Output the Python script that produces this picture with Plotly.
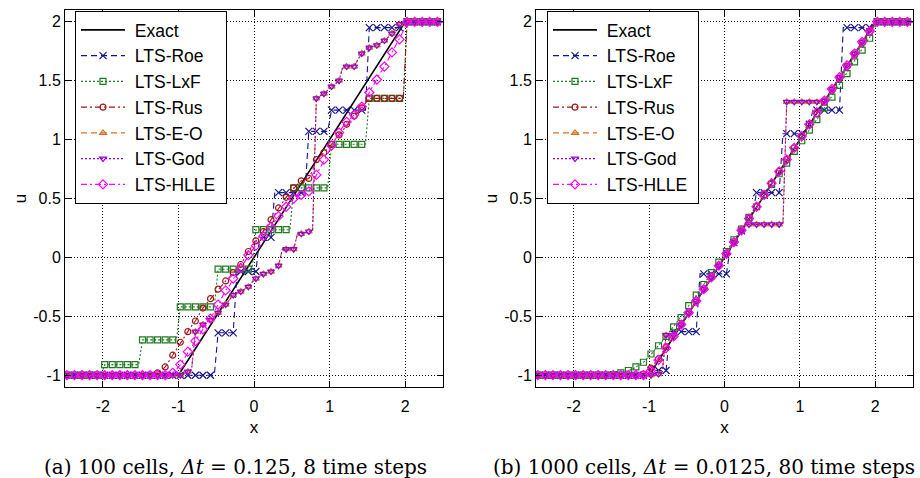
import plotly.graph_objects as go

W, H = 920, 478

# ---------------- data ----------------
# cell centres (every 0.05 on [-2.5, 2.5]); markers drawn on every other cell
X_CELLS = [round(-2.475 + 0.05 * i, 3) for i in range(100)]

EXACT_X = [-2.5, -1.0, 2.0, 2.5]
EXACT_U = [-1.0, -1.0, 2.0, 2.0]

# (a) 100 cells, dt = 0.125
ROE_A = ([-1.0] * 40 + [-0.64] * 5 + [-0.12] * 6 + [0.17] * 4 + [0.55] * 9
         + [1.07] * 6 + [1.25] * 10 + [1.95] * 9 + [2.0] * 11)
LXF_A = ([-1.0] * 10 + [-0.91] * 10 + [-0.70] * 10 + [-0.42] * 10 + [-0.10] * 10
         + [0.235] * 10 + [0.59] * 10 + [0.96] * 10 + [1.35] * 10 + [2.0] * 10)
RUS_A = ([-1.0] * 24
         + [-0.98, -0.96, -0.93, -0.88, -0.83, -0.77, -0.72, -0.67, -0.63, -0.58,
            -0.54, -0.48, -0.43, -0.39, -0.35, -0.31, -0.27, -0.24, -0.20, -0.17,
            -0.13, -0.10, -0.06, -0.01, 0.05, 0.10, 0.14, 0.18, 0.22, 0.27,
            0.32, 0.37, 0.42, 0.47, 0.51, 0.55, 0.59, 0.62, 0.65, 0.66,
            0.67, 0.74, 0.83, 0.86, 0.89, 0.93, 0.96, 1.00, 1.04, 1.09,
            1.13, 1.16, 1.20, 1.23, 1.27, 1.30]
         + [1.35] * 10 + [2.0] * 10)
GOD_A = ([-1.0] * 31
         + [-0.99, -0.97, -0.95, -0.63, -0.60, -0.57, -0.55, -0.53, -0.50, -0.47,
            -0.44, -0.40, -0.36, -0.32, -0.30, -0.29, -0.27, -0.25, -0.21, -0.18,
            -0.16, -0.14, -0.13, -0.12, -0.10, -0.07, 0.07, 0.07, 0.07, 0.07,
            0.20, 0.20, 0.21, 0.22, 0.23, 1.35, 1.37, 1.39, 1.42, 1.45,
            1.47, 1.50, 1.62, 1.62, 1.62, 1.62, 1.68, 1.73, 1.76, 1.78,
            1.79, 1.80, 1.82, 1.84, 1.87, 1.90, 1.94, 1.98]
         + [2.0] * 11)
EO_A = list(GOD_A)
HLLE_A = ([-1.0] * 28
          + [-0.98, -0.95, -0.91, -0.86, -0.80, -0.75, -0.71, -0.66, -0.61, -0.56,
             -0.52, -0.46, -0.40, -0.34, -0.28, -0.24, -0.18, -0.13, -0.09, -0.04,
             0.02, 0.06, 0.10, 0.14, 0.18, 0.22, 0.26, 0.30, 0.35, 0.39,
             0.43, 0.47, 0.50, 0.52, 0.53, 0.54, 0.56, 0.62, 0.70, 0.76,
             0.83, 0.89, 0.95, 1.01, 1.06, 1.11, 1.15, 1.18, 1.21, 1.25,
             1.28, 1.33, 1.40, 1.46, 1.51, 1.57, 1.62, 1.68, 1.74, 1.79,
             1.85, 1.92]
          + [2.0] * 10)

# (b) 1000 cells, dt = 0.0125 (shown at the same sampling)
ROE_B = ([-1.0] * 30 + [-0.96] * 5 + [-0.63] * 8 + [-0.14] * 8
         + [0.075, 0.125, 0.175, 0.225, 0.275, 0.325, 0.375]
         + [0.55] * 7 + [1.05] * 6 + [1.08, 1.13] + [1.25] * 8 + [1.95] * 8 + [2.0] * 11)
LXF_B = ([-1.0] * 20
         + [-0.995, -0.99, -0.98, -0.97, -0.96, -0.95, -0.93, -0.91, -0.89, -0.86,
            -0.82, -0.78, -0.75, -0.71, -0.67, -0.63, -0.59, -0.55, -0.51, -0.46,
            -0.41, -0.37, -0.32, -0.28, -0.23, -0.18, -0.13, -0.09, -0.04, 0.01,
            0.05, 0.10, 0.15, 0.19, 0.24, 0.29, 0.34, 0.39, 0.43, 0.48,
            0.53, 0.57, 0.62, 0.67, 0.71, 0.76, 0.80, 0.85, 0.90, 0.94,
            0.99, 1.03, 1.08, 1.13, 1.17, 1.22, 1.27, 1.31, 1.36, 1.41,
            1.46, 1.51, 1.56, 1.61, 1.66, 1.71, 1.76, 1.81, 1.86, 1.92]
         + [2.0] * 10)
RUS_B = ([-1.0] * 28
         + [-0.99, -0.97, -0.94, -0.90, -0.86, -0.81, -0.76]
         + [-0.72, -0.67, -0.62, -0.57, -0.52, -0.47, -0.42, -0.37, -0.32, -0.27,
            -0.22, -0.17, -0.12, -0.07, -0.02]
         + [0.03, 0.08, 0.13, 0.18, 0.23, 0.28, 0.33, 0.38, 0.43, 0.48,
            0.53, 0.58, 0.63, 0.68, 0.73, 0.78, 0.83, 0.88, 0.93, 0.98]
         + [1.03, 1.08, 1.13, 1.18, 1.22, 1.27, 1.32, 1.37, 1.42, 1.47,
            1.52, 1.57, 1.62, 1.67, 1.72, 1.77, 1.82, 1.86, 1.91, 1.96]
         + [2.0] * 10)
GOD_B = ([-1.0] * 32 + [-0.99, -0.97] + [-0.66, -0.66, -0.66, -0.62]
         + [-0.57, -0.52, -0.47, -0.42, -0.37, -0.32, -0.27, -0.22, -0.17, -0.12,
            -0.07, -0.02, 0.03, 0.08, 0.13, 0.18, 0.23, 0.28]
         + [0.28] * 10 + [1.32] * 10
         + [1.33, 1.38, 1.43, 1.48, 1.53, 1.58, 1.63, 1.68, 1.73, 1.78,
            1.83, 1.88, 1.93, 1.98]
         + [2.0] * 10)
EO_B = list(GOD_B)
HLLE_B = ([-1.0] * 29
          + [-0.99, -0.96, -0.92, -0.87, -0.82, -0.77]
          + [-0.72, -0.67, -0.62, -0.57, -0.52, -0.47, -0.42, -0.37, -0.32, -0.27,
             -0.22, -0.17, -0.12, -0.07, -0.02]
          + [0.03, 0.08, 0.13, 0.18, 0.23, 0.28, 0.33, 0.38, 0.43, 0.48,
             0.53, 0.58, 0.63, 0.68, 0.73, 0.78, 0.83, 0.88, 0.93, 0.98]
          + [1.03, 1.08, 1.13, 1.18, 1.23, 1.28, 1.33, 1.38, 1.43, 1.48,
             1.53, 1.58, 1.63, 1.68, 1.73, 1.78, 1.83, 1.87, 1.92, 1.97]
          + [2.0] * 10)

for arr in (ROE_A, LXF_A, RUS_A, GOD_A, HLLE_A, ROE_B, LXF_B, RUS_B, GOD_B, HLLE_B):
    assert len(arr) == 100, len(arr)

SERIES_NAMES = ["LTS-Roe", "LTS-LxF", "LTS-Rus", "LTS-E-O", "LTS-God", "LTS-HLLE"]
PANEL_A = [ROE_A, LXF_A, RUS_A, EO_A, GOD_A, HLLE_A]
PANEL_B = [ROE_B, LXF_B, RUS_B, EO_B, GOD_B, HLLE_B]

X_TICKS = [-2, -1, 0, 1, 2]
X_TICKTEXT = ["-2", "-1", "0", "1", "2"]
Y_TICKS = [-1, -0.5, 0, 0.5, 1, 1.5, 2]
Y_TICKTEXT = ["-1", "-0.5", "0", "0.5", "1", "1.5", "2"]

CAPTION_A = "(a) 100 cells, <i>Δt</i> = 0.125, 8 time steps"
CAPTION_B = "(b) 1000 cells, <i>Δt</i> = 0.0125, 80 time steps"

# ---------------- styles ----------------
STYLES = {
    "LTS-Roe":  dict(color="#14148c", dash="6px,4px", symbol="x-thin", size=7),
    "LTS-LxF":  dict(color="#1e7a1e", dash="2px,2px", symbol="square-open", size=6),
    "LTS-Rus":  dict(color="#a01414", dash="6px,3px,2px,3px", symbol="circle-open", size=6),
    "LTS-E-O":  dict(color="#d8701e", dash="6px,4px", symbol="triangle-up-open", size=6),
    "LTS-God":  dict(color="#9400d3", dash="2px,2px", symbol="triangle-down-open", size=6),
    "LTS-HLLE": dict(color="#ff00ff", dash="6px,3px,2px,3px", symbol="diamond-open", size=7),
}

FONT = "Liberation Sans"
NB = "\u00a0"
fig = go.Figure()

panels = [("x", "y", "legend", PANEL_A), ("x2", "y2", "legend2", PANEL_B)]
for xa, ya, leg, data in panels:
    fig.add_trace(go.Scatter(x=EXACT_X, y=EXACT_U, mode="lines", name=NB + "Exact",
                             line=dict(color="black", width=1.6),
                             xaxis=xa, yaxis=ya, legend=leg, legendgroup=leg + "Exact"))
    for name, vals in zip(SERIES_NAMES, data):
        st = STYLES[name]
        grp = leg + name
        fig.add_trace(go.Scatter(x=X_CELLS, y=vals, mode="lines", showlegend=False,
                                 line=dict(color=st["color"], width=1.1, dash=st["dash"]),
                                 xaxis=xa, yaxis=ya, legendgroup=grp, hoverinfo="skip"))
        fig.add_trace(go.Scatter(x=X_CELLS[::2], y=vals[::2], mode="markers", showlegend=False,
                                 marker=dict(symbol=st["symbol"], size=st["size"], color=st["color"],
                                             line=dict(color=st["color"], width=1.2)),
                                 xaxis=xa, yaxis=ya, legendgroup=grp))
        fig.add_trace(go.Scatter(x=[None], y=[None], mode="lines+markers",
                                 name=NB + name + NB,
                                 line=dict(color=st["color"], width=1.1, dash=st["dash"]),
                                 marker=dict(symbol=st["symbol"], size=st["size"], color=st["color"],
                                             line=dict(color=st["color"], width=1.2)),
                                 xaxis=xa, yaxis=ya, legend=leg, legendgroup=grp))

# ---------------- layout ----------------
M_T, M_B = 10, 91
PLOT_H = H - M_T - M_B

def px_x(p):
    return p / W

def px_y(p):
    return 1 - (p - M_T) / PLOT_H

axis_common = dict(showline=True, linecolor="black", linewidth=1, mirror="allticks",
                   ticks="inside", ticklen=6, tickcolor="black", tickwidth=1,
                   showgrid=True, gridcolor="black", gridwidth=1, griddash="1px,2px",
                   zeroline=False, tickfont=dict(family=FONT, size=16, color="black"))

xcommon = dict(axis_common, range=[-2.5, 2.5], tickvals=X_TICKS, ticktext=X_TICKTEXT,
               ticklabelstandoff=5,
               title=dict(text="x", font=dict(family=FONT, size=17, color="black"), standoff=6))
ycommon = dict(axis_common, range=[-1.1, 2.1], tickvals=Y_TICKS, ticktext=Y_TICKTEXT,
               title=dict(text="u", font=dict(family=FONT, size=17, color="black"), standoff=2))

legend_common = dict(bgcolor="white", bordercolor="black", borderwidth=1,
                     font=dict(family=FONT, size=17.5, color="black"),
                     xanchor="left", yanchor="top", tracegroupgap=0,
                     traceorder="grouped", itemwidth=44)

CAP_FONT = dict(family="DejaVu Serif", size=20, color="black")

fig.update_layout(
    width=W, height=H,
    margin=dict(l=0, r=0, t=M_T, b=M_B, autoexpand=False),
    paper_bgcolor="white", plot_bgcolor="white",
    xaxis=dict(xcommon, domain=[px_x(65), px_x(443)], anchor="y"),
    yaxis=dict(ycommon, domain=[0, 1], anchor="x"),
    xaxis2=dict(xcommon, domain=[px_x(536), px_x(913)], anchor="y2"),
    yaxis2=dict(ycommon, domain=[0, 1], anchor="x2"),
    legend=dict(legend_common, x=px_x(75), y=px_y(11)),
    legend2=dict(legend_common, x=px_x(547), y=px_y(11)),
    annotations=[
        dict(text=CAPTION_A, x=px_x(235), y=px_y(467), xref="paper", yref="paper",
             showarrow=False, xanchor="center", yanchor="middle", font=CAP_FONT),
        dict(text=CAPTION_B, x=px_x(704), y=px_y(467), xref="paper", yref="paper",
             showarrow=False, xanchor="center", yanchor="middle", font=CAP_FONT),
    ],
    showlegend=True,
)

fig.write_html("out.html")
